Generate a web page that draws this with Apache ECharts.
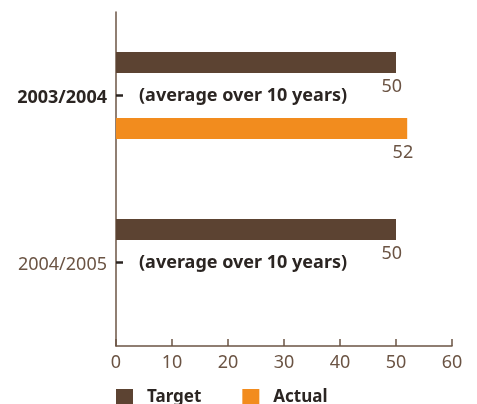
<!DOCTYPE html>
<html>
<head>
<meta charset="utf-8">
<script src="https://cdn.jsdelivr.net/npm/echarts@6/dist/echarts.min.js"></script>
<style>
  html, body { margin: 0; padding: 0; background: #fff; }
  #chart { width: 477px; height: 404px; }
</style>
</head>
<body>
<div id="chart"></div>
<script>
// Reporting periods and their notes
const periods = ['2003/2004', '2004/2005'];
const periodNotes = ['(average over 10 years)', '(average over 10 years)'];
// Series values (null = no figure reported)
const targetValues = [50, 50];
const actualValues = [52, null];
// Value axis ticks
const valueTicks = [0, 10, 20, 30, 40, 50, 60];

const BROWN = '#5c4332';
const ORANGE = '#f28c1e';
const TEXT_BROWN = '#6b5444';
const DARK = '#2b2522';
const FONT = '"Noto Sans", "Open Sans", sans-serif';

const chart = echarts.init(document.getElementById('chart'));

const valueLabel = {
  show: true,
  position: ['100%', '100%'],
  align: 'right',
  verticalAlign: 'top',
  offset: [6, 5],
  color: TEXT_BROWN,
  fontFamily: FONT,
  fontSize: 18,
  formatter: p => p.value
};

chart.setOption({
  animation: false,
  textStyle: { fontFamily: FONT },
  legend: {
    left: 116,
    top: 389,
    padding: 0,
    itemWidth: 17,
    itemHeight: 17,
    itemGap: 41,
    icon: 'rect',
    textStyle: { fontFamily: FONT, fontSize: 17, fontWeight: 'bold', color: DARK, padding: [0, 0, 0, 9] },
    data: ['Target', 'Actual']
  },
  grid: { left: 116, right: 25, top: 12, bottom: 58, containLabel: false },
  xAxis: {
    type: 'value',
    min: valueTicks[0],
    max: valueTicks[valueTicks.length - 1],
    interval: 10,
    axisLine: { show: true, lineStyle: { color: TEXT_BROWN, width: 1.5 } },
    axisTick: { show: true, inside: true, length: 7, lineStyle: { color: TEXT_BROWN, width: 1.5 } },
    splitLine: { show: false },
    axisLabel: { color: TEXT_BROWN, fontSize: 18, fontFamily: FONT, margin: 8 }
  },
  yAxis: [
    {
      type: 'category',
      inverse: true,
      data: periods,
      position: 'left',
      axisLine: { show: true, lineStyle: { color: TEXT_BROWN, width: 1.5 } },
      axisTick: { show: true, inside: true, alignWithLabel: true, length: 7, lineStyle: { color: DARK, width: 2.5 } },
      axisLabel: {
        fontSize: 18,
        fontFamily: FONT,
        margin: 9,
        padding: [4, 0, 0, 0],
        formatter: (v, i) => i === 0 ? '{b|' + v + '}' : '{n|' + v + '}',
        rich: {
          b: { fontSize: 18, fontWeight: 'bold', color: DARK, fontFamily: FONT },
          n: { fontSize: 18, color: TEXT_BROWN, fontFamily: FONT }
        }
      }
    },
    {
      type: 'category',
      inverse: true,
      data: periodNotes,
      position: 'left',
      axisLine: { show: false },
      axisTick: { show: false },
      axisLabel: {
        inside: true,
        margin: 23,
        padding: [4, 0, 0, 0],
        fontSize: 18,
        fontWeight: 'bold',
        color: DARK,
        fontFamily: FONT
      }
    }
  ],
  series: [
    {
      name: 'Target',
      type: 'bar',
      yAxisIndex: 0,
      data: targetValues,
      barWidth: 21,
      barGap: '214%',
      itemStyle: { color: BROWN },
      label: valueLabel
    },
    {
      name: 'Actual',
      type: 'bar',
      yAxisIndex: 0,
      data: actualValues,
      barWidth: 21,
      itemStyle: { color: ORANGE },
      label: valueLabel
    }
  ]
});
</script>
</body>
</html>
